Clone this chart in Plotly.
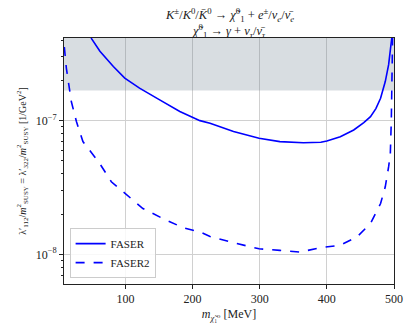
import plotly.graph_objects as go

# FASER (solid) sensitivity curve
faser_mass = [47, 50, 62, 82, 99, 121, 151, 181, 211, 226, 261, 299, 330, 365,
              391, 400, 420, 440, 455, 465, 473, 480, 487, 492, 495.5, 497]
faser_coup = [4.37e-7, 4.07e-7, 3.30e-7, 2.54e-7, 2.08e-7, 1.75e-7, 1.43e-7,
              1.17e-7, 1.00e-7, 9.55e-8, 8.28e-8, 7.38e-8, 6.97e-8, 6.84e-8,
              6.89e-8, 7.05e-8, 7.59e-8, 8.51e-8, 9.66e-8, 1.07e-7, 1.23e-7,
              1.47e-7, 1.96e-7, 2.62e-7, 3.70e-7, 4.27e-7]

# FASER2 (dashed) sensitivity curve
faser2_mass = [9, 12, 19.4, 27, 36.7, 46.7, 61.6, 79, 99, 126, 156, 186, 211,
               226, 261, 299, 330, 360, 390, 400, 420, 445, 465, 480, 487, 492,
               494.5, 496, 497, 498]
faser2_coup = [3.55e-7, 2.47e-7, 1.39e-7, 9.84e-8, 6.97e-8, 6.03e-8, 4.79e-8,
               3.49e-8, 2.85e-8, 2.20e-8, 1.85e-8, 1.58e-8, 1.47e-8, 1.36e-8,
               1.22e-8, 1.10e-8, 1.07e-8, 1.04e-8, 1.12e-8, 1.14e-8, 1.17e-8,
               1.35e-8, 1.70e-8, 2.40e-8, 3.20e-8, 4.52e-8, 5.62e-8, 1.0e-7,
               2.0e-7, 4.47e-7]

# excluded region (gray band)
band_mass = [0, 520, 520, 0]
band_coup = [1.68e-7, 1.68e-7, 1e-6, 1e-6]

x_ticks = [100, 200, 300, 400, 500]
y_ticks = [1e-8, 1e-7]
y_ticktext = ["10<sup>−8</sup>", "10<sup>−7</sup>"]
y_minor = [7e-9, 8e-9, 9e-9, 2e-8, 3e-8, 4e-8, 5e-8, 6e-8, 7e-8, 8e-8, 9e-8,
           2e-7, 3e-7, 4e-7]

SERIF = "Liberation Serif, DejaVu Serif, serif"

fig = go.Figure()

fig.add_trace(go.Scatter(
    x=band_mass, y=band_coup, fill="toself", mode="lines",
    line=dict(width=0), fillcolor="rgba(112,128,144,0.27)",
    showlegend=False, hoverinfo="skip"
))

fig.add_trace(go.Scatter(
    x=faser_mass, y=faser_coup, mode="lines", name="FASER",
    line=dict(color="#0000ff", width=1.6)
))
fig.add_trace(go.Scatter(
    x=faser2_mass, y=faser2_coup, mode="lines", name="FASER2",
    line=dict(color="#0000ff", width=1.6, dash="dash")
))

title1 = ("<i>K</i><sup>±</sup>/<i>K</i><sup>0</sup>/<i>K̄</i><sup>0</sup> → "
          "<i>χ̃</i><sup>0</sup><sub>1</sub> + <i>e</i><sup>±</sup>/"
          "<i>ν</i><sub><i>e</i></sub>/<i>ν̄</i><sub><i>e</i></sub>")
title2 = ("<i>χ̃</i><sup>0</sup><sub>1</sub> → <i>γ</i> + "
          "<i>ν</i><sub><i>τ</i></sub>/<i>ν̄</i><sub><i>τ</i></sub>")

for txt, yp in [(title1, 1.093), (title2, 1.03)]:
    fig.add_annotation(text=txt, x=0.5, y=yp, xref="paper", yref="paper",
                       xanchor="center", yanchor="middle", showarrow=False,
                       font=dict(family=SERIF, size=12.5, color="#222"))

fig.update_layout(
    width=411, height=329,
    margin=dict(l=64, r=17, t=38, b=45),
    paper_bgcolor="white", plot_bgcolor="white",
    font=dict(family=SERIF, size=12, color="#222"),
    showlegend=True,
    legend=dict(x=0.017, y=0.024, xanchor="left", yanchor="bottom",
                bgcolor="rgba(255,255,255,0.85)", bordercolor="#cccccc",
                borderwidth=1, font=dict(family=SERIF, size=11),
                tracegroupgap=0, itemwidth=30),
    xaxis=dict(
        range=[8.5, 500], tickvals=x_ticks, showgrid=True,
        gridcolor="#d0d0d0", gridwidth=1, zeroline=False, automargin=False,
        showline=True, linecolor="#222", linewidth=1, mirror=True,
        ticks="outside", ticklen=4, tickcolor="#222",
        title=dict(text="<i>m</i><sub><i>χ̃</i>₁⁰</sub> [MeV]",
                   font=dict(family=SERIF, size=12), standoff=4),
    ),
    yaxis=dict(
        type="log", range=[-8.222, -6.382], automargin=False,
        tickvals=y_ticks, ticktext=y_ticktext, showgrid=True,
        gridcolor="#d0d0d0", gridwidth=1, zeroline=False,
        showline=True, linecolor="#222", linewidth=1, mirror=True,
        ticks="outside", ticklen=4, tickcolor="#222",
        minor=dict(tickmode="array", tickvals=y_minor, ticks="outside",
                   ticklen=2, tickcolor="#222", showgrid=False),
        title=dict(text="λ′<sub>112</sub>/<i>m</i><sup>2</sup><sub>SUSY</sub> = "
                        "λ′<sub>322</sub>/<i>m</i><sup>2</sup><sub>SUSY</sub> "
                        "[1/GeV<sup>2</sup>]",
                   font=dict(family=SERIF, size=10), standoff=7),
    ),
)

fig.write_html("out.html", config={"displayModeBar": False},
               post_script="document.body.style.margin='0';")
